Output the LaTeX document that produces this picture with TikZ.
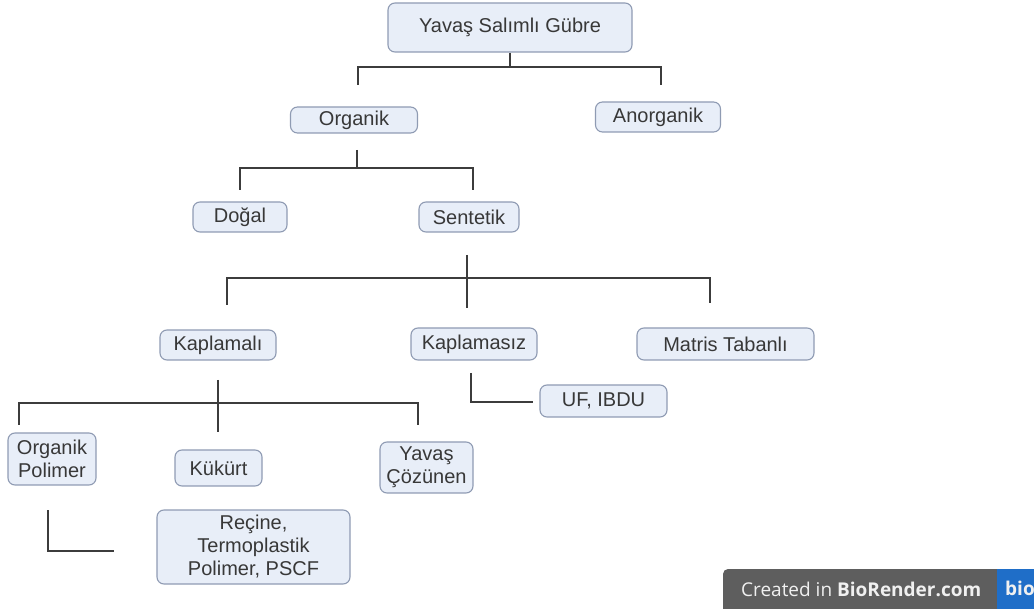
\documentclass[tikz,border=0pt]{standalone}
\usepackage{fontspec}
\setmainfont{Liberation Sans}
\newfontfamily\wmfont{Open Sans}
\definecolor{boxfill}{HTML}{E8EEF8}
\definecolor{boxborder}{HTML}{8F9BB3}
\definecolor{txt}{HTML}{383838}
\definecolor{linec}{HTML}{3C3C3C}
\definecolor{wmgray}{HTML}{5E5E5E}
\definecolor{wmblue}{HTML}{1F6EC8}
\definecolor{wmtext}{HTML}{F0F0F0}
\begin{document}
\begin{tikzpicture}[x=1pt,y=-1pt,
  box/.style={draw=boxborder, fill=boxfill, rounded corners=7pt, line width=1.1pt,
    inner sep=0pt, align=center, text=txt, font=\fontsize{20}{23}\selectfont},
  conn/.style={draw=linec, line width=1.7pt}]
\useasboundingbox (0,0) rectangle (1034,609);
% nodes
\node[box, minimum width=244pt, minimum height=49pt] (root) at (510,27.5) {Yavaş Salımlı Gübre};
\node[box, minimum width=127pt, minimum height=26pt] (org) at (354,120) {Organik};
\node[box, minimum width=125pt, minimum height=30pt] (anorg) at (658,117) {Anorganik};
\node[box, minimum width=94pt, minimum height=30pt] (dogal) at (240,217) {Doğal};
\node[box, minimum width=100pt, minimum height=30pt] (sent) at (469,217) {Sentetik};
\node[box, minimum width=116pt, minimum height=30pt] (kap) at (218,345) {Kaplamalı};
\node[box, minimum width=126pt, minimum height=32pt] (kaps) at (474,344) {Kaplamasız};
\node[box, minimum width=177pt, minimum height=32pt] (mat) at (725.5,344) {Matris Tabanlı};
\node[box, minimum width=127pt, minimum height=32pt] (uf) at (603.5,401) {UF, IBDU};
\node[box, minimum width=88pt, minimum height=52pt] (opol) at (52,459) {Organik\\Polimer};
\node[box, minimum width=87pt, minimum height=36pt] (kuk) at (218.5,468) {Kükürt};
\node[box, minimum width=93pt, minimum height=51pt] (yc) at (426.5,467.5) {Yavaş\\Çözünen};
\node[box, minimum width=193pt, minimum height=74pt] (rec) at (253.5,547) {Reçine,\\Termoplastik\\Polimer, PSCF};
% connector points
\coordinate (j1) at (510,67);
\coordinate (e1) at (358,85);
\coordinate (e2) at (661,85);
\coordinate (s2) at (357,150);
\coordinate (j2) at (357,168);
\coordinate (e3) at (240,190);
\coordinate (e4) at (473,190);
\coordinate (s3) at (467,255);
\coordinate (j3) at (467,278);
\coordinate (e5) at (227,305);
\coordinate (e6) at (467,308);
\coordinate (e7) at (710,303);
\coordinate (s4) at (218,380);
\coordinate (j4) at (218,403);
\coordinate (e8) at (19,425);
\coordinate (e9) at (218,432);
\coordinate (e10) at (418,425);
\coordinate (s5) at (48,510);
\coordinate (e11) at (114,551);
\coordinate (s6) at (471,373);
\coordinate (e12) at (533,402);
% connectors
\draw[conn] (root.south) -- (j1);
\draw[conn] (e1) |- (j1) -| (e2);
\draw[conn] (s2) -- (j2);
\draw[conn] (e3) |- (j2) -| (e4);
\draw[conn] (s3) -- (e6);
\draw[conn] (e5) |- (j3) -| (e7);
\draw[conn] (s4) -- (e9);
\draw[conn] (e8) |- (j4) -| (e10);
\draw[conn] (s5) |- (e11);
\draw[conn] (s6) |- (e12);
% watermark
\fill[wmgray] (723,609) [rounded corners=5pt] -- (723,569) -- (1034,569) [sharp corners] -- (1034,609) -- cycle;
\fill[wmblue] (997,569) rectangle (1034,609);
\node[anchor=west, text=wmtext, inner sep=0pt, font=\wmfont\fontsize{19}{22}\selectfont] (wm) at (741,589) {Created in \textbf{BioRender.com}};
\begin{scope}
\clip (997,569) rectangle (1034,609);
\node[anchor=west, text=wmtext, inner sep=0pt, font=\wmfont\bfseries\fontsize{19}{22}\selectfont] (wmb) at (1005,588) {bio};
\end{scope}
\end{tikzpicture}
\end{document}
